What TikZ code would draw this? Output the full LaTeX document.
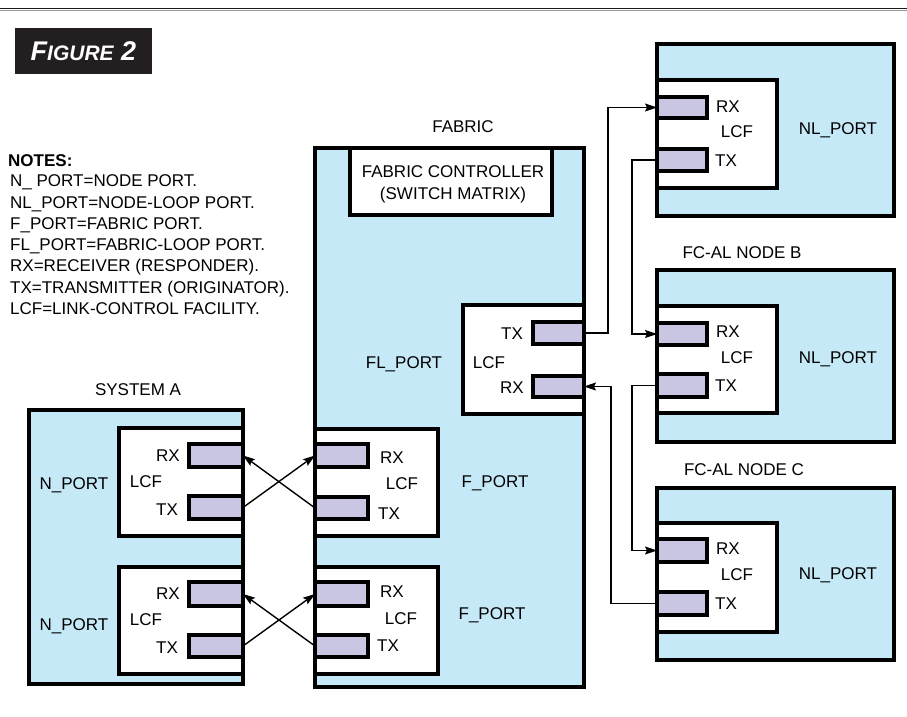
\documentclass[tikz,border=0pt]{standalone}
\usepackage{fontspec}
\setmainfont{Liberation Sans}
\usetikzlibrary{arrows.meta}
\definecolor{boxblue}{RGB}{198,233,248}
\definecolor{portlav}{RGB}{200,198,226}
\definecolor{figbg}{RGB}{35,31,32}
\begin{document}
\begin{tikzpicture}[x=1pt,y=-1pt,
  R/.style n args={4}{minimum width={(#3)-(#1)}, minimum height={(#4)-(#2)},
     at={({((#1)+(#3))/2},{((#2)+(#4))/2})}, inner sep=0pt, outer sep=0pt, rectangle},
  outerbox/.style={draw=black, fill=boxblue, line width=3.2pt},
  lcfbox/.style={draw=black, fill=white, line width=3.2pt},
  portbox/.style={draw=black, fill=portlav, line width=3.2pt},
  lbl/.style={font=\fontsize{17}{20}\selectfont, inner sep=0pt, anchor=base, yshift=-6pt},
  note/.style={font=\fontsize{17}{20}\selectfont, inner sep=0pt, anchor=base west, yshift=-6pt},
  conn/.style={line width=1.4pt, draw=black},
  arr/.style={conn, -{Stealth[length=12pt,width=8pt,inset=2pt]}}
]
\useasboundingbox (0,0) rectangle (907,717);

% top rule
\draw[line width=1.6pt, draw=black!90] (0,8.6) -- (907,8.6);
\draw[line width=1pt, draw=black!40] (0,10.2) -- (907,10.2);

% figure title
\node[R={15}{28}{152}{74}, fill=figbg] (figbox) {};
\node[inner sep=0pt, text=white, font=\bfseries\itshape] (figtitle) at (figbox.center)
  {\fontsize{27}{28}\selectfont F\fontsize{21}{28}\selectfont IGURE\fontsize{27}{28}\selectfont{} 2};

% notes
\node[note, font=\bfseries\fontsize{17}{20}\selectfont] (n0) at (8,160) {NOTES:};
\node[note] (n1) at (10,180) {N\_ PORT=NODE PORT.};
\node[note] (n2) at (10,202) {NL\_PORT=NODE-LOOP PORT.};
\node[note] (n3) at (10,223) {F\_PORT=FABRIC PORT.};
\node[note] (n4) at (10,244) {FL\_PORT=FABRIC-LOOP PORT.};
\node[note] (n5) at (10,265) {RX=RECEIVER (RESPONDER).};
\node[note] (n6) at (10,287) {TX=TRANSMITTER (ORIGINATOR).};
\node[note] (n7) at (10,308) {LCF=LINK-CONTROL FACILITY.};

% ---------- System A ----------
\node[lbl] (sysAlbl) at (138,389) {SYSTEM A};
\node[outerbox, R={29}{410}{243}{684}] (sysA) {};
\node[lcfbox, R={119}{428}{243}{536}] (alcf1) {};
\node[portbox, R={189}{444}{243}{467}] (arx1) {};
\node[portbox, R={189}{496}{243}{519}] (atx1) {};
\node[lcfbox, R={119}{567}{243}{674}] (alcf2) {};
\node[portbox, R={189}{582}{243}{606}] (arx2) {};
\node[portbox, R={189}{635}{243}{657}] (atx2) {};
\node[lbl] (anp1) at (74,483) {N\_PORT};
\node[lbl] (anp2) at (74,624) {N\_PORT};
\node[lbl] (arxl1) at (168,455) {RX};
\node[lbl] (alcfl1) at (146,481) {LCF};
\node[lbl] (atxl1) at (167,509) {TX};
\node[lbl] (arxl2) at (168,593) {RX};
\node[lbl] (alcfl2) at (146,619) {LCF};
\node[lbl] (atxl2) at (167,647) {TX};

% ---------- Fabric ----------
\node[lbl] (fablbl) at (463,126) {FABRIC};
\node[outerbox, R={315}{148}{584}{687}] (fab) {};
\node[lcfbox, R={350}{148}{552}{215}] (fc) {};
\node[lbl] (fc1) at (453,171) {FABRIC CONTROLLER};
\node[lbl] (fc2) at (453,193) {(SWITCH MATRIX)};
\node[lcfbox, R={463}{305}{584}{414}] (fllcf) {};
\node[portbox, R={533}{322}{584}{344}] (fltx) {};
\node[portbox, R={533}{376}{584}{397}] (flrx) {};
\node[lbl] (fltxl) at (512,333) {TX};
\node[lbl] (fllcfl) at (489,362) {LCF};
\node[lbl] (flrxl) at (512,387) {RX};
\node[lbl] (flport) at (404,362) {FL\_PORT};

\node[lcfbox, R={315}{429}{438}{536}] (flcf1) {};
\node[portbox, R={315}{444}{368}{467}] (frx1) {};
\node[portbox, R={315}{497}{368}{519}] (ftx1) {};
\node[lcfbox, R={315}{567}{438}{674}] (flcf2) {};
\node[portbox, R={315}{582}{368}{606}] (frx2) {};
\node[portbox, R={315}{635}{368}{657}] (ftx2) {};
\node[lbl] (frxl1) at (392,457) {RX};
\node[lbl] (flcfl1) at (402,483) {LCF};
\node[lbl] (ftxl1) at (389,513) {TX};
\node[lbl] (frxl2) at (392,591) {RX};
\node[lbl] (flcfl2) at (401,618) {LCF};
\node[lbl] (ftxl2) at (388,645) {TX};
\node[lbl] (fport1) at (495,481) {F\_PORT};
\node[lbl] (fport2) at (492,613) {F\_PORT};

% ---------- Node A (top right) ----------
\node[outerbox, R={657}{44}{894}{216}] (na) {};
\node[lcfbox, R={657}{80}{777}{188}] (nalcf) {};
\node[portbox, R={657}{97}{707}{118}] (narx) {};
\node[portbox, R={657}{149}{707}{171}] (natx) {};
\node[lbl] (narxl) at (728,106) {RX};
\node[lbl] (nalcfl) at (737,131) {LCF};
\node[lbl] (natxl) at (726,160) {TX};
\node[lbl] (naport) at (838,128) {NL\_PORT};

% ---------- Node B ----------
\node[lbl] (nblbl) at (742,252) {FC-AL NODE B};
\node[outerbox, R={657}{270}{894}{442}] (nb) {};
\node[lcfbox, R={657}{306}{777}{413}] (nblcf) {};
\node[portbox, R={657}{323}{707}{345}] (nbrx) {};
\node[portbox, R={657}{374}{707}{397}] (nbtx) {};
\node[lbl] (nbrxl) at (728,331) {RX};
\node[lbl] (nblcfl) at (737,357) {LCF};
\node[lbl] (nbtxl) at (726,385) {TX};
\node[lbl] (nbport) at (838,357) {NL\_PORT};

% ---------- Node C ----------
\node[lbl] (nclbl) at (744,469) {FC-AL NODE C};
\node[outerbox, R={657}{488}{894}{660}] (nc) {};
\node[lcfbox, R={657}{523}{777}{632}] (nclcf) {};
\node[portbox, R={657}{539}{707}{562}] (ncrx) {};
\node[portbox, R={657}{592}{707}{615}] (nctx) {};
\node[lbl] (ncrxl) at (728,548) {RX};
\node[lbl] (nclcfl) at (737,574) {LCF};
\node[lbl] (nctxl) at (726,603) {TX};
\node[lbl] (ncport) at (838,573) {NL\_PORT};

% ---------- connectors ----------
\draw[arr] (atx1.east) -- (frx1.west);
\draw[arr] (ftx1.west) -- (arx1.east);
\draw[arr] (atx2.east) -- (frx2.west);
\draw[arr] (ftx2.west) -- (arx2.east);

\draw[arr] (fltx.east) -- ++(24,0) |- (narx.west);
\draw[arr] (natx.west) -- ++(-25,0) |- (nbrx.west);
\draw[arr] (nbtx.west) -- ++(-25,0) |- (ncrx.west);
\draw[arr] (nctx.west) -- ++(-46,0) |- (flrx.east);
\end{tikzpicture}
\end{document}
